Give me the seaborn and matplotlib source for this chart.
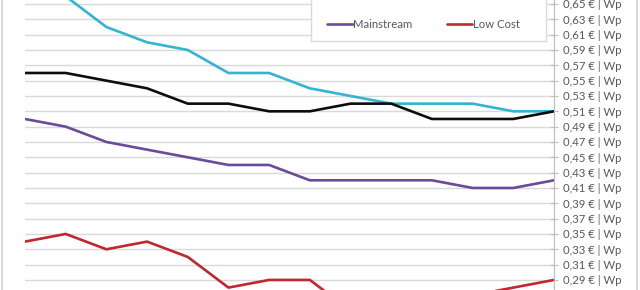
import numpy as np
import pandas as pd
import matplotlib
matplotlib.use("Agg")
import matplotlib.pyplot as plt
import seaborn as sns
from matplotlib.ticker import FuncFormatter, FixedLocator
from matplotlib.patches import Rectangle

# ---- data ----
periods = ["01/22", "02/22", "03/22", "04/22", "05/22", "06/22", "07/22",
           "08/22", "09/22", "10/22", "11/22", "12/22", "01/23", "02/23"]
high_efficiency = [0.67, 0.66, 0.62, 0.60, 0.59, 0.56, 0.56, 0.54, 0.53, 0.52, 0.52, 0.52, 0.51, 0.51]
all_black = [0.56, 0.56, 0.55, 0.54, 0.52, 0.52, 0.51, 0.51, 0.52, 0.52, 0.50, 0.50, 0.50, 0.51]
mainstream = [0.50, 0.49, 0.47, 0.46, 0.45, 0.44, 0.44, 0.42, 0.42, 0.42, 0.42, 0.41, 0.41, 0.42]
low_cost = [0.34, 0.35, 0.33, 0.34, 0.32, 0.28, 0.29, 0.29, 0.25, 0.25, 0.26, 0.27, 0.28, 0.29]
series_names = ["High Efficiency", "All Black", "Mainstream", "Low Cost"]
legend_names = ["Mainstream", "Low Cost"]
ytick_values = [0.29, 0.31, 0.33, 0.35, 0.37, 0.39, 0.41, 0.43, 0.45, 0.47,
                0.49, 0.51, 0.53, 0.55, 0.57, 0.59, 0.61, 0.63, 0.65]

colors = ["#33B4D3", "#0D0D0D", "#6A4A9A", "#C1272D"]

frames = []
for name, vals in zip(series_names, [high_efficiency, all_black, mainstream, low_cost]):
    frames.append(pd.DataFrame({"period": periods, "price": vals, "series": name}))
df = pd.concat(frames, ignore_index=True)

sns.set_theme(style="white")
plt.rcParams["font.family"] = ["Lato", "DejaVu Sans"]

W, H = 640, 290
fs = 8.2
fig = plt.figure(figsize=(6.4, 2.9), dpi=100)
ax = fig.add_axes([25 / W, 0, (554 - 25) / W, 1])

sns.lineplot(data=df, x="period", y="price", hue="series", hue_order=series_names,
             palette=colors, linewidth=1.9, ax=ax, sort=False)

# y scale: 0.65 at y=4px, 0.02 per 15.33px
px_per_unit = 15.33 / 0.02
ax.set_ylim(0.65 - (H - 4) / px_per_unit, 0.65 + 4 / px_per_unit)
ax.set_xlim(0, len(periods) - 1)

ax.yaxis.set_major_locator(FixedLocator(ytick_values))
ax.yaxis.set_major_formatter(FuncFormatter(lambda v, p: f"{v:.2f}".replace(".", ",") + " € | Wp"))
ax.yaxis.tick_right()
ax.grid(axis="y", color="#D9D9D9", linewidth=1.0)
ax.grid(axis="x", visible=False)
ax.set_axisbelow(True)
for s in ["left", "top", "bottom"]:
    ax.spines[s].set_visible(False)
ax.spines["right"].set_color("#BFBFBF")
ax.spines["right"].set_linewidth(0.9)
ax.tick_params(axis="y", direction="inout", length=6, width=0.8, color="#BFBFBF",
               labelsize=fs, labelcolor="#595959", pad=3.5)
ax.tick_params(axis="x", bottom=False, labelbottom=False)
ax.set_xlabel("")
ax.set_ylabel("")

# legend (visible lower row of the chart legend)
handles, labels = ax.get_legend_handles_labels()
hmap = dict(zip(labels, handles))
if ax.get_legend() is not None:
    ax.get_legend().remove()
leg = fig.legend([hmap[k] for k in legend_names], legend_names, ncol=2, loc="center left",
                 bbox_to_anchor=(327 / W, (H - 24) / H), bbox_transform=fig.transFigure,
                 borderaxespad=0, borderpad=0, frameon=False, fontsize=fs,
                 handlelength=2.25, handletextpad=0.05, columnspacing=3.0)
for t in leg.get_texts():
    t.set_color("#595959")
for l in leg.get_lines():
    l.set_linewidth(1.9)
leg.set_zorder(6)

# legend box (its top lies above the visible area)
fig.add_artist(Rectangle((311 / W, (H - 41) / H), (546 - 311) / W, 0.3,
                         transform=fig.transFigure, facecolor="white",
                         edgecolor="#D9D9D9", linewidth=1.0, zorder=3))

# outer chart border (light grey)
fig.add_artist(Rectangle((2 / W, -0.1), (637 - 2) / W, 1.3, transform=fig.transFigure,
                         fill=False, edgecolor="#D9D9D9", linewidth=1.5, zorder=10))

fig.savefig("out.png", dpi=100)
